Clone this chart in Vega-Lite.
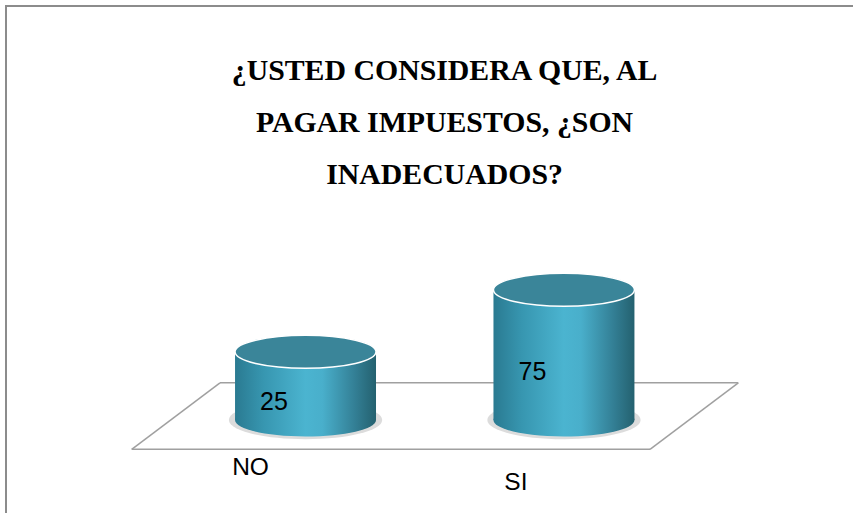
{
  "$schema": "https://vega.github.io/schema/vega-lite/v6.json",
  "width": 847,
  "height": 507,
  "autosize": {"type": "none"},
  "padding": {"left": 6, "top": 6, "right": 0, "bottom": 0},
  "background": "white",
  "config": {
    "view": {"stroke": "#8c8c8c", "strokeWidth": 2, "strokeDash": [847, 1354, 507, 10]}
  },
  "title": {
    "text": ["¿USTED CONSIDERA QUE, AL", "PAGAR IMPUESTOS, ¿SON", "INADECUADOS?"],
    "font": "Liberation Serif",
    "fontSize": 29.8,
    "fontWeight": "bold",
    "color": "#000000",
    "lineHeight": 52,
    "anchor": "middle",
    "baseline": "alphabetic",
    "offset": 0,
    "dx": 15,
    "dy": 208
  },
  "datasets": {
    "respuestas": [
      {"respuesta": "NO", "valor": 25},
      {"respuesta": "SI", "valor": 75}
    ]
  },
  "data": {"name": "respuestas"},
  "resolve": {"scale": {"x": "independent", "y": "independent"}},
  "layer": [
    {
      "data": {"values": [{}]},
      "encoding": {
        "x": {"datum": -0.3308, "type": "quantitative", "scale": {"domain": [-1.1586, 2.118], "nice": false, "zero": false}, "axis": null},
        "y": {"datum": 0, "type": "quantitative", "scale": {"domain": [-105, 304], "nice": false, "zero": false}, "axis": null}
      },
      "layer": [
        {"mark": {"type": "rule", "color": "#a0a0a0", "strokeWidth": 1.5},
         "encoding": {"x2": {"datum": 1.6743}, "y2": {"datum": 0}}},
        {"mark": {"type": "rule", "color": "#a0a0a0", "strokeWidth": 1.5},
         "encoding": {"x2": {"datum": -0.6723}, "y2": {"datum": -53.6}}},
        {"mark": {"type": "rule", "color": "#a0a0a0", "strokeWidth": 1.5},
         "encoding": {"x": {"datum": -0.6723, "type": "quantitative"}, "y": {"datum": -53.6, "type": "quantitative"}, "x2": {"datum": 1.3327}, "y2": {"datum": -53.6}}},
        {"mark": {"type": "rule", "color": "#a0a0a0", "strokeWidth": 1.5},
         "encoding": {"x": {"datum": 1.6743, "type": "quantitative"}, "y": {"datum": 0, "type": "quantitative"}, "x2": {"datum": 1.3327}, "y2": {"datum": -53.6}}}
      ]
    },
    {
      "encoding": {
        "x": {"field": "respuesta", "type": "nominal", "scale": {"type": "band", "domain": ["NO", "SI"], "paddingInner": 0.4545, "paddingOuter": 0.866, "align": 0.5117}, "axis": null}
      },
      "layer": [
        {
          "mark": {"type": "point", "filled": true, "fill": "#a8a8a8", "opacity": 0.4, "strokeWidth": 0, "size": 23500, "dx": 3, "dy": 2,
            "shape": "M-1,0C-1,-0.14,-0.5523,-0.25,0,-0.25C0.5523,-0.25,1,-0.14,1,0C1,0.14,0.5523,0.25,0,0.25C-0.5523,0.25,-1,0.14,-1,0Z"},
          "encoding": {"y": {"datum": -30, "type": "quantitative", "scale": {"domain": [-105, 304], "nice": false, "zero": false}, "axis": null}}
        },
        {
          "mark": {"type": "bar",
            "fill": {"gradient": "linear", "x1": 0, "x2": 1, "y1": 0, "y2": 0,
              "stops": [
                {"offset": 0, "color": "#2a7a91"},
                {"offset": 0.2, "color": "#3796b0"},
                {"offset": 0.5, "color": "#4bb4d0"},
                {"offset": 0.62, "color": "#49afcb"},
                {"offset": 0.85, "color": "#337f95"},
                {"offset": 1, "color": "#24616f"}
              ]}},
          "encoding": {
            "y": {"field": "valor", "type": "quantitative", "scale": {"domain": [-105, 304], "nice": false, "zero": false}, "axis": null},
            "y2": {"datum": -30}
          }
        },
        {
          "mark": {"type": "point", "filled": true, "opacity": 1, "strokeWidth": 0, "size": 19881,
            "shape": "M-1,0C-1,-0.13,-0.5523,-0.234,0,-0.234C0.5523,-0.234,1,-0.13,1,0C1,0.13,0.5523,0.234,0,0.234C-0.5523,0.234,-1,0.13,-1,0Z",
            "fill": {"gradient": "linear", "x1": 0, "x2": 1, "y1": 0, "y2": 0,
              "stops": [
                {"offset": 0, "color": "#2a7a91"},
                {"offset": 0.2, "color": "#3796b0"},
                {"offset": 0.5, "color": "#4bb4d0"},
                {"offset": 0.62, "color": "#49afcb"},
                {"offset": 0.85, "color": "#337f95"},
                {"offset": 1, "color": "#24616f"}
              ]}},
          "encoding": {"y": {"datum": -30, "type": "quantitative"}}
        },
        {
          "mark": {"type": "point", "filled": true, "opacity": 1, "fill": "#3a8599", "stroke": "#ffffff", "strokeWidth": 1.5, "size": 19881,
            "shape": "M-1,0C-1,-0.13,-0.5523,-0.234,0,-0.234C0.5523,-0.234,1,-0.13,1,0C1,0.13,0.5523,0.234,0,0.234C-0.5523,0.234,-1,0.13,-1,0Z"},
          "encoding": {"y": {"field": "valor", "type": "quantitative"}}
        },
        {
          "transform": [{"filter": "datum.respuesta === 'NO'"}],
          "mark": {"type": "text", "font": "Liberation Sans", "fontSize": 24.5, "color": "#000000", "baseline": "middle", "align": "center", "dx": -55},
          "encoding": {"y": {"datum": -68.5, "type": "quantitative"}, "text": {"field": "respuesta"}}
        },
        {
          "transform": [{"filter": "datum.respuesta === 'SI'"}],
          "mark": {"type": "text", "font": "Liberation Sans", "fontSize": 24.5, "color": "#000000", "baseline": "middle", "align": "center", "dx": -48},
          "encoding": {"y": {"datum": -80.5, "type": "quantitative"}, "text": {"field": "respuesta"}}
        }
      ]
    },
    {
      "mark": {"type": "text", "font": "Liberation Sans", "fontSize": 25, "color": "#000000", "baseline": "middle", "align": "center", "dx": -31.5},
      "encoding": {
        "x": {"field": "respuesta", "type": "nominal", "scale": {"type": "band", "domain": ["NO", "SI"], "paddingInner": 0.4545, "paddingOuter": 0.866, "align": 0.5117}, "axis": null},
        "y": {"field": "valor", "type": "quantitative", "scale": {"domain": [-160, 685], "nice": false, "zero": false}, "axis": null},
        "text": {"field": "valor"}
      }
    }
  ]
}
